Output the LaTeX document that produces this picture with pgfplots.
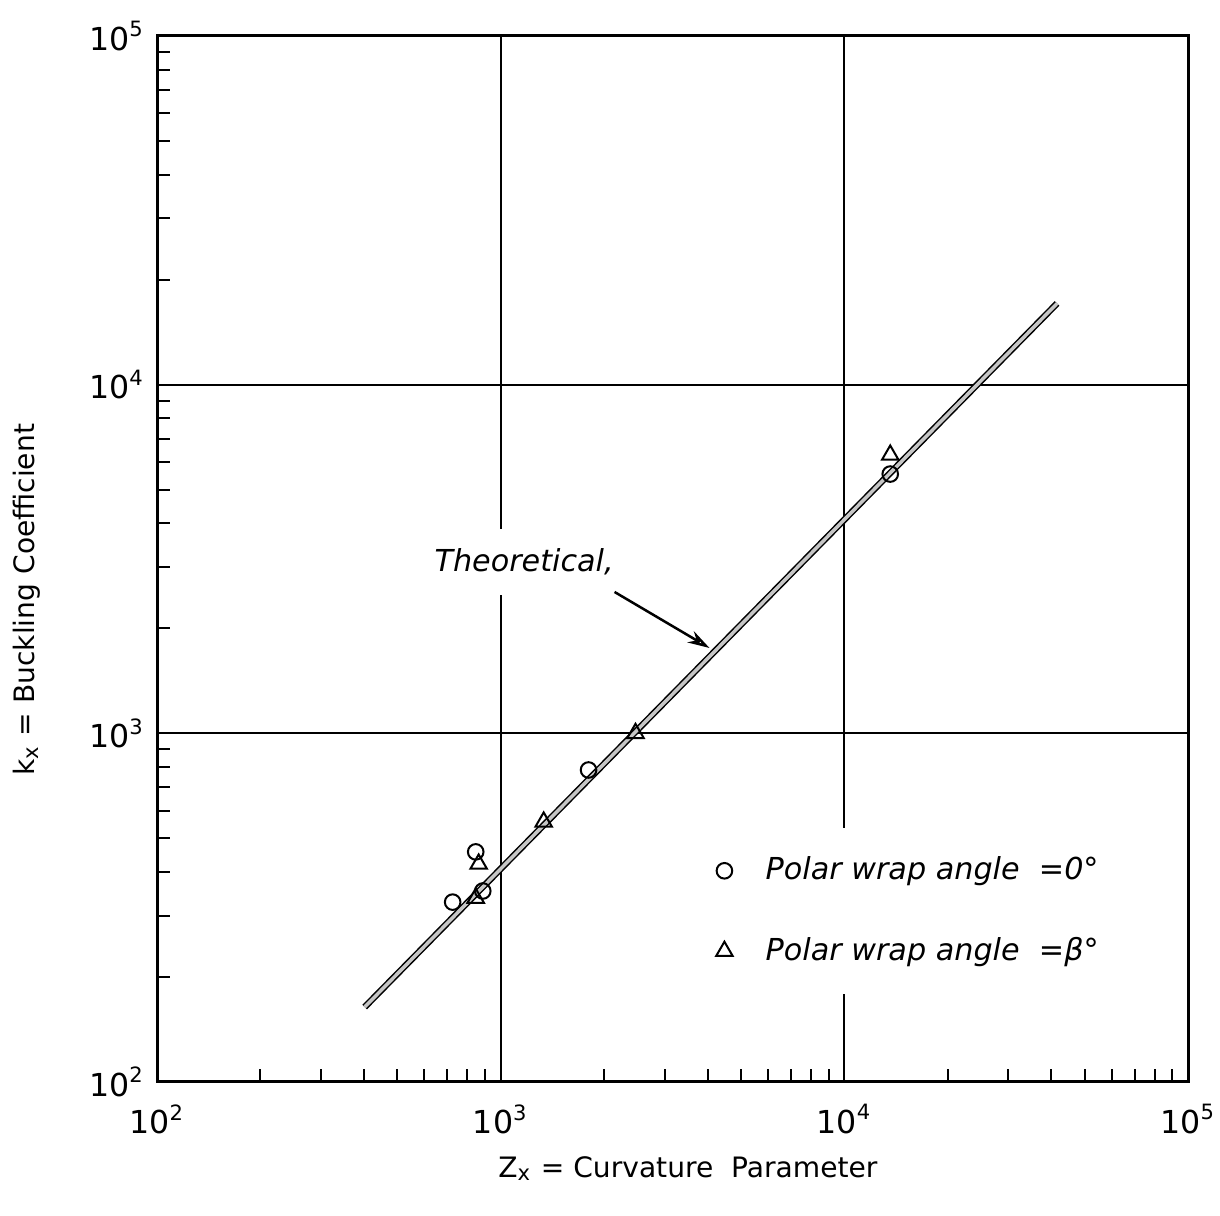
\documentclass[border=0pt]{standalone}
\usepackage{pgfplots}
\pgfplotsset{compat=1.18}
\usepackage{fontspec}
\setmainfont{DejaVu Sans}
\usetikzlibrary{arrows.meta}
\begin{document}
\begin{tikzpicture}
\begin{loglogaxis}[
  scale only axis,
  width=103.1mm, height=104.6mm,
  xmin=100, xmax=100000, ymin=100, ymax=100000,
  xtick={100,1000,10000,100000},
  xticklabels={10\textsuperscript{2},10\textsuperscript{3},10\textsuperscript{4},10\textsuperscript{5}},
  ytick={100,1000,10000,100000},
  yticklabels={10\textsuperscript{2},10\textsuperscript{3},10\textsuperscript{4},10\textsuperscript{5}},
  ticklabel style={font=\fontsize{9}{11}\selectfont},
  xticklabel style={yshift=-1mm},
  xtick pos=left, ytick pos=left,
  tick align=inside,
  major tick length=0pt,
  minor tick length=1.3mm,
  every tick/.style={black, line width=0.2mm},
  axis line style={line width=0.3mm},
  grid=major,
  major grid style={black, line width=0.2mm},
  xlabel={Z\textsubscript{x} = Curvature\ \ Parameter},
  ylabel={k\textsubscript{x} = Buckling Coefficient},
  label style={font=\fontsize{8}{10}\selectfont},
  xlabel style={at={(axis description cs:0.515,-0.083)}, anchor=center},
  ylabel style={at={(axis description cs:-0.126,0.461)}, anchor=center, rotate=0},
  legend style={at={(rel axis cs:0.532,0.2438)}, anchor=north west, draw=none, fill=white,
    inner xsep=1mm, inner ysep=2.2mm, row sep=3.8mm,
    font=\fontsize{8.6}{10}\selectfont\itshape,
    /tikz/every odd column/.append style={column sep=2.6mm}},
  legend cell align=left,
  clip=false,
]
\addplot[black, line width=0.15mm, double=gray!45, double distance=0.35mm, forget plot]
  coordinates {(402,164) (41600,17100)};
\addplot[only marks, mark=o, mark size=0.78mm, mark options={black, fill=white, line width=0.2mm}]
  coordinates {(725,328) (846,457) (887,353) (1802,785) (13600,5540)};
\addlegendentry{Polar wrap angle\ \ =0°}
\addplot[only marks, mark=triangle, mark size=0.95mm, mark options={black, fill=white, line width=0.2mm}]
  coordinates {(846,337) (863,422) (1334,557) (2468,1000) (13600,6285)};
\addlegendentry{Polar wrap angle\ \ =β°}
\node[fill=white, inner xsep=1mm, inner ysep=2mm, font=\fontsize{8.6}{10}\selectfont\itshape]
  at (axis cs:1170,3100) {Theoretical,};
\draw[-{Stealth[length=2.2mm,width=1.3mm,open]}, line width=0.25mm]
  (axis cs:2145,2543) -- (axis cs:4052,1757);
\end{loglogaxis}
\pgfresetboundingbox
\path (-15.7mm,-13.4mm) rectangle (106.3mm,108.2mm);
\end{tikzpicture}
\end{document}
